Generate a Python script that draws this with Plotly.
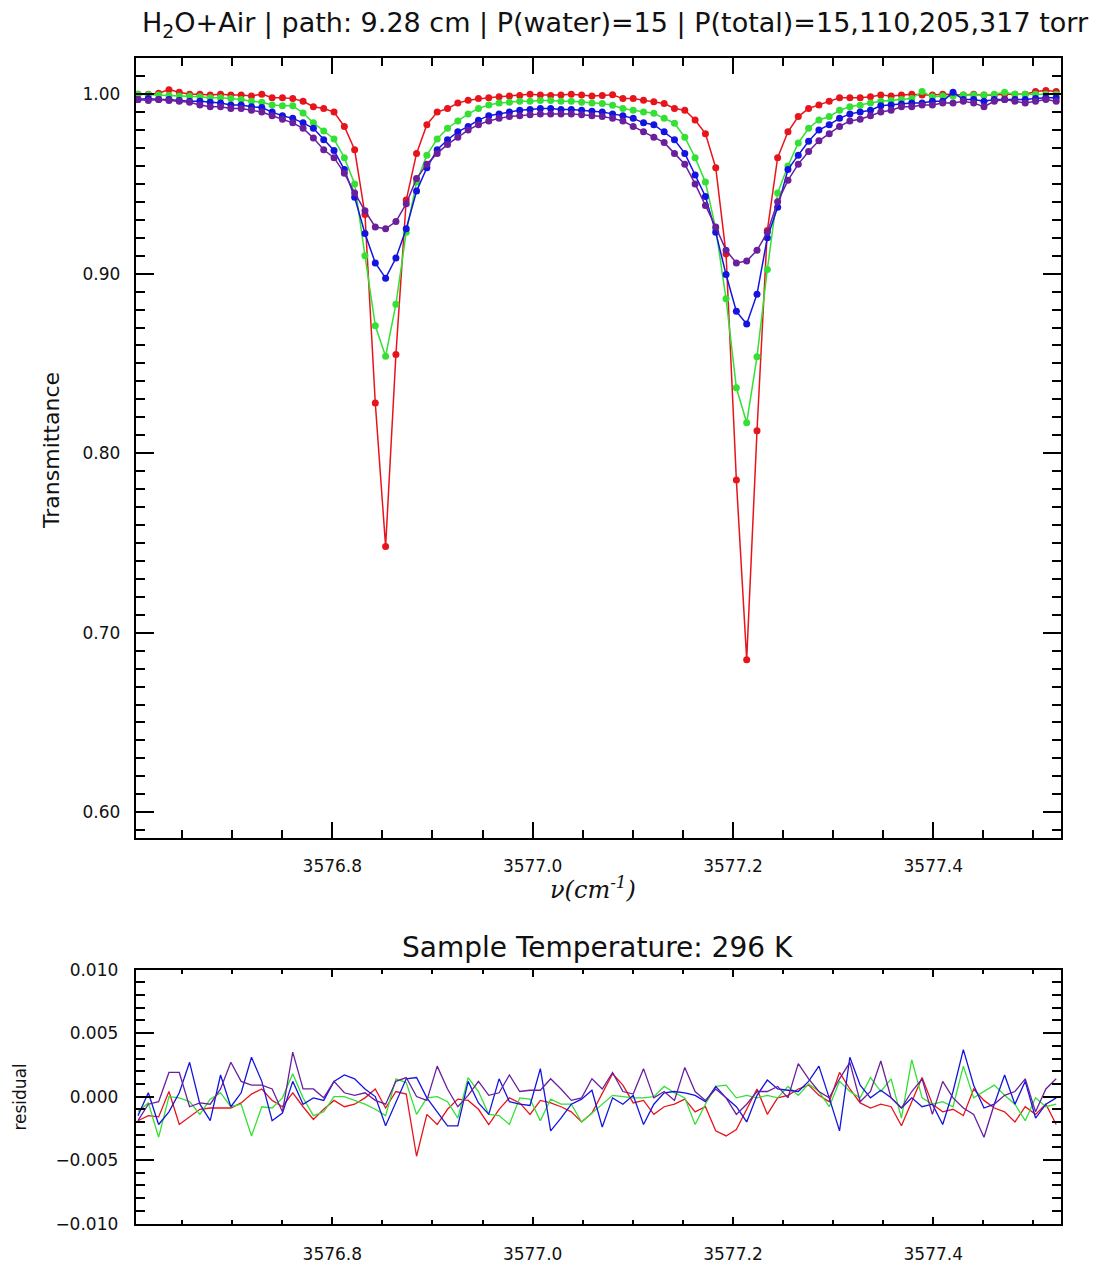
import plotly.graph_objects as go

# ---------------- data ----------------
wavenumber = [
    3576.6060, 3576.6163, 3576.6266, 3576.6369, 3576.6472, 3576.6575, 3576.6678, 3576.6781, 3576.6884, 3576.6987,
    3576.7090, 3576.7193, 3576.7296, 3576.7399, 3576.7502, 3576.7605, 3576.7708, 3576.7811, 3576.7914, 3576.8017,
    3576.8120, 3576.8223, 3576.8326, 3576.8429, 3576.8532, 3576.8635, 3576.8738, 3576.8841, 3576.8944, 3576.9047,
    3576.9150, 3576.9253, 3576.9356, 3576.9459, 3576.9562, 3576.9665, 3576.9768, 3576.9871, 3576.9974, 3577.0077,
    3577.0180, 3577.0283, 3577.0386, 3577.0489, 3577.0592, 3577.0695, 3577.0798, 3577.0901, 3577.1004, 3577.1107,
    3577.1210, 3577.1313, 3577.1416, 3577.1519, 3577.1622, 3577.1725, 3577.1828, 3577.1931, 3577.2034, 3577.2137,
    3577.2240, 3577.2343, 3577.2446, 3577.2549, 3577.2652, 3577.2755, 3577.2858, 3577.2961, 3577.3064, 3577.3167,
    3577.3270, 3577.3373, 3577.3476, 3577.3579, 3577.3682, 3577.3785, 3577.3888, 3577.3991, 3577.4094, 3577.4197,
    3577.4300, 3577.4403, 3577.4506, 3577.4609, 3577.4712, 3577.4815, 3577.4918, 3577.5021, 3577.5124, 3577.5227,
]

trans_p15 = [
    1.000, 1.000, 1.0005, 1.0025, 1.001, 1.000, 1.000, 0.9995, 1.000, 0.9995,
    0.9995, 0.999, 1.000, 0.998, 0.998, 0.9975, 0.996, 0.993, 0.992, 0.990,
    0.982, 0.969, 0.933, 0.828, 0.748, 0.855, 0.941, 0.967, 0.983, 0.990,
    0.992, 0.995, 0.9966, 0.9975, 0.998, 0.9985, 0.999, 0.9993, 1.000, 0.9995,
    0.9993, 0.9995, 1.000, 0.9995, 0.999, 0.9993, 0.9996, 0.9975, 0.9975, 0.9966,
    0.9957, 0.9948, 0.992, 0.991, 0.9856, 0.978, 0.959, 0.911, 0.785, 0.685,
    0.8125, 0.924, 0.9646, 0.979, 0.9875, 0.992, 0.994, 0.996, 0.998, 0.998,
    0.998, 0.9985, 0.9995, 0.999, 0.9995, 1.000, 0.9995, 0.9995, 1.000, 1.000,
    0.9995, 1.000, 0.9995, 0.9995, 1.000, 1.000, 1.000, 1.0015, 1.002, 1.0015,
]

trans_p110 = [
    1.000, 0.9998, 0.9995, 0.9993, 0.999, 0.9988, 0.9985, 0.998, 0.998, 0.9975,
    0.997, 0.996, 0.9955, 0.994, 0.9935, 0.9935, 0.9895, 0.984, 0.9795, 0.975,
    0.9646, 0.950, 0.910, 0.871, 0.854, 0.883, 0.923, 0.951, 0.966, 0.975,
    0.981, 0.985, 0.989, 0.992, 0.994, 0.995, 0.9955, 0.996, 0.996, 0.9965,
    0.9965, 0.996, 0.996, 0.9955, 0.995, 0.9948, 0.9938, 0.992, 0.991, 0.990,
    0.9893, 0.9865, 0.9838, 0.976, 0.9646, 0.951, 0.925, 0.886, 0.8364, 0.817,
    0.8537, 0.9023, 0.945, 0.960, 0.9728, 0.981, 0.9856, 0.9875, 0.991, 0.993,
    0.9938, 0.995, 0.996, 0.9965, 0.997, 0.9975, 1.0015, 0.9985, 0.999, 0.999,
    0.9995, 0.9995, 0.9995, 1.000, 1.001, 1.000, 1.000, 1.000, 1.000, 1.000,
]

trans_p205 = [
    0.997, 0.9975, 0.997, 0.997, 0.9965, 0.996, 0.996, 0.9955, 0.995, 0.994,
    0.994, 0.993, 0.9925, 0.990, 0.988, 0.9865, 0.984, 0.981, 0.9746, 0.9686,
    0.958, 0.9426, 0.9224, 0.906, 0.8975, 0.9087, 0.925, 0.946, 0.959, 0.969,
    0.9746, 0.979, 0.982, 0.9855, 0.988, 0.989, 0.990, 0.991, 0.9915, 0.992,
    0.992, 0.9915, 0.9915, 0.991, 0.9905, 0.990, 0.989, 0.988, 0.9865, 0.984,
    0.983, 0.979, 0.9746, 0.967, 0.955, 0.943, 0.923, 0.8995, 0.879, 0.872,
    0.8886, 0.920, 0.937, 0.958, 0.966, 0.9737, 0.980, 0.983, 0.9865, 0.989,
    0.990, 0.991, 0.9935, 0.994, 0.9945, 0.995, 0.995, 0.996, 0.996, 1.001,
    0.997, 0.997, 0.996, 0.997, 0.997, 0.997, 0.997, 0.9975, 0.998, 0.998,
]

trans_p317 = [
    0.997, 0.9965, 0.997, 0.9965, 0.996, 0.9955, 0.994, 0.993, 0.993, 0.992,
    0.992, 0.991, 0.990, 0.988, 0.986, 0.984, 0.981, 0.9755, 0.969, 0.9646,
    0.956, 0.945, 0.935, 0.926, 0.925, 0.929, 0.939, 0.953, 0.961, 0.967,
    0.972, 0.976, 0.980, 0.983, 0.985, 0.9865, 0.9875, 0.988, 0.9885, 0.989,
    0.989, 0.989, 0.989, 0.9885, 0.988, 0.9875, 0.9865, 0.985, 0.982, 0.979,
    0.976, 0.973, 0.967, 0.961, 0.950, 0.938, 0.926, 0.913, 0.906, 0.907,
    0.913, 0.923, 0.940, 0.952, 0.961, 0.968, 0.974, 0.978, 0.982, 0.985,
    0.986, 0.988, 0.990, 0.991, 0.993, 0.993, 0.994, 0.994, 0.995, 0.995,
    0.996, 0.995, 0.993, 0.996, 0.997, 0.996, 0.995, 0.996, 0.997, 0.996,
]

resid_p15 = [
    -0.0019, -0.0015, -0.0016, 0.0004, -0.0022, -0.0016, -0.0010, -0.0009, -0.0009, -0.0009,
    -0.0005, 0.0002, 0.0006, -0.0003, -0.0008, 0.0003, -0.0008, -0.0018, -0.0010, -0.0003,
    -0.0008, -0.0006, -0.0001, 0.0006, -0.0009, 0.0004, 0.0002, -0.0047, -0.0014, -0.0022,
    -0.0010, -0.0002, -0.0003, -0.0010, -0.0022, -0.0010, -0.0001, -0.0005, -0.0014, -0.0003,
    -0.0005, -0.0008, -0.0012, -0.0020, -0.0013, 0.0002, 0.0018, 0.0009, -0.0005, -0.0003,
    -0.0014, -0.0008, -0.0006, -0.0002, -0.0012, -0.0008, -0.0027, -0.0031, -0.0026, -0.0010,
    0.0006, -0.0014, -0.0001, 0.0001, 0.0006, 0.0009, 0.0001, -0.0004, 0.0019, 0.0006,
    -0.0005, -0.0009, -0.0006, -0.0008, -0.0023, -0.0004, 0.0015, -0.0006, -0.0012, -0.0010,
    -0.0015, 0.0006, -0.0003, -0.0009, -0.0012, -0.0020, -0.0008, -0.0014, -0.0006, -0.0022,
]

resid_p110 = [
    -0.0012, -0.0005, -0.0032, 0.0000, -0.0001, -0.0004, -0.0014, -0.0002, 0.0003, -0.0008,
    -0.0006, -0.0031, -0.0008, -0.0009, -0.0001, 0.0018, -0.0001, -0.0015, -0.0012, 0.0000,
    0.0000, -0.0003, -0.0006, -0.0010, -0.0015, 0.0014, 0.0011, -0.0014, -0.0001, 0.0000,
    -0.0004, -0.0017, 0.0015, 0.0004, -0.0014, -0.0015, -0.0022, -0.0001, -0.0002, -0.0019,
    -0.0002, -0.0006, -0.0006, -0.0020, -0.0013, -0.0006, 0.0001, 0.0000, -0.0001, -0.0001,
    0.0000, 0.0008, 0.0003, -0.0001, -0.0022, -0.0006, 0.0008, 0.0009, -0.0001, 0.0001,
    -0.0001, 0.0001, -0.0001, 0.0008, 0.0001, 0.0010, 0.0004, -0.0008, 0.0012, 0.0004,
    -0.0001, 0.0015, 0.0004, 0.0014, -0.0017, 0.0029, -0.0001, -0.0006, -0.0004, -0.0008,
    0.0024, -0.0001, 0.0004, 0.0009, 0.0001, -0.0006, -0.0019, -0.0001, -0.0008, -0.0006,
]

resid_p205 = [
    -0.0015, 0.0003, -0.0022, -0.0012, 0.0003, 0.0027, -0.0006, -0.0019, 0.0017, -0.0008,
    0.0003, 0.0031, 0.0012, -0.0019, -0.0013, 0.0012, -0.0006, -0.0001, -0.0003, 0.0012,
    0.0017, 0.0014, 0.0006, 0.0000, -0.0023, -0.0004, 0.0014, 0.0015, -0.0001, -0.0012,
    -0.0023, -0.0023, 0.0012, -0.0005, -0.0014, 0.0014, -0.0004, -0.0006, -0.0007, 0.0022,
    -0.0027, -0.0017, -0.0006, -0.0002, 0.0005, -0.0024, -0.0001, -0.0006, 0.0001, -0.0022,
    -0.0006, 0.0003, 0.0004, 0.0003, 0.0001, -0.0004, 0.0008, -0.0001, -0.0008, -0.0020,
    0.0001, 0.0013, 0.0006, 0.0005, 0.0004, 0.0012, 0.0024, -0.0001, -0.0027, 0.0031,
    0.0009, -0.0001, 0.0005, -0.0001, -0.0009, -0.0001, -0.0008, -0.0006, -0.0022, 0.0004,
    0.0037, 0.0009, -0.0009, -0.0006, 0.0017, -0.0006, 0.0012, -0.0017, -0.0006, -0.0001,
]

resid_p317 = [
    -0.0019, -0.0006, -0.0004, 0.0019, 0.0019, -0.0008, -0.0005, -0.0006, 0.0006, 0.0027,
    0.0012, 0.0009, 0.0009, 0.0006, -0.0012, 0.0035, 0.0006, 0.0006, -0.0001, 0.0012,
    0.0003, 0.0001, 0.0003, -0.0003, -0.0006, 0.0012, 0.0015, 0.0000, -0.0003, 0.0024,
    0.0006, -0.0008, 0.0001, 0.0012, 0.0001, 0.0003, 0.0017, 0.0004, 0.0005, 0.0005,
    0.0014, 0.0006, -0.0003, -0.0001, 0.0014, 0.0006, 0.0019, 0.0004, 0.0002, 0.0022,
    -0.0001, 0.0004, -0.0003, 0.0023, 0.0004, -0.0003, 0.0006, -0.0001, -0.0014, -0.0006,
    0.0004, 0.0004, 0.0008, -0.0001, 0.0026, 0.0014, 0.0004, -0.0001, 0.0014, 0.0027,
    -0.0004, 0.0004, 0.0028, -0.0001, -0.0009, 0.0004, 0.0014, -0.0014, 0.0012, -0.0001,
    -0.0009, -0.0014, -0.0032, -0.0006, 0.0001, 0.0004, 0.0014, -0.0012, 0.0006, 0.0014,
]

series_names = ["P=15 torr", "P=110 torr", "P=205 torr", "P=317 torr"]
series_colors = ["#e8141c", "#35e035", "#1414e0", "#6a1f9c"]
trans_series = [trans_p15, trans_p110, trans_p205, trans_p317]
resid_series = [resid_p15, resid_p110, resid_p205, resid_p317]

x_tick_vals = [3576.8, 3577.0, 3577.2, 3577.4]
x_tick_text = ["3576.8", "3577.0", "3577.2", "3577.4"]
top_y_tick_vals = [0.60, 0.70, 0.80, 0.90, 1.00]
top_y_tick_text = ["0.60", "0.70", "0.80", "0.90", "1.00"]
res_y_tick_vals = [-0.010, -0.005, 0.0, 0.005, 0.010]
res_y_tick_text = ["\u22120.010", "\u22120.005", "0.000", "0.005", "0.010"]

main_title = "H<sub>2</sub>O+Air | path: 9.28 cm | P(water)=15 | P(total)=15,110,205,317 torr"
resid_title = "Sample Temperature: 296 K"

# ---------------- figure ----------------
W, H = 1099, 1268
fig = go.Figure()

for name, col, tr in zip(series_names, series_colors, trans_series):
    fig.add_trace(go.Scatter(
        x=wavenumber, y=tr, mode="lines+markers", name=name,
        line=dict(color=col, width=1.5),
        marker=dict(color=col, size=7, symbol="circle"),
        xaxis="x", yaxis="y", showlegend=False))

for name, col, rs in zip(series_names, series_colors, resid_series):
    fig.add_trace(go.Scatter(
        x=wavenumber, y=rs, mode="lines", name=name + " residual",
        line=dict(color=col, width=1.3),
        xaxis="x2", yaxis="y2", showlegend=False))

xl, xr = 135.7, 1061.0
top_t, top_b = 49.0, 841.0
bot_t, bot_b = 975.0, 1233.0

tick_font = dict(family="DejaVu Sans", size=17, color="#111")

common_x = dict(
    range=[3576.6037, 3577.5275], domain=[xl / W, xr / W],
    showgrid=False, zeroline=False, showline=True, linecolor="black", linewidth=2,
    mirror="allticks", ticks="inside", tickcolor="black", tickwidth=1.5,
    tickvals=x_tick_vals, ticktext=x_tick_text, tickfont=tick_font,
)

fig.update_layout(
    width=W, height=H, autosize=False,
    margin=dict(l=0, r=0, t=0, b=0),
    paper_bgcolor="white", plot_bgcolor="white",
    xaxis=dict(common_x, anchor="y", ticklen=16, ticklabelstandoff=12,
               minor=dict(dtick=0.05, tick0=3576.6, ticklen=8, ticks="inside",
                          tickcolor="black", tickwidth=1.5)),
    yaxis=dict(range=[0.5858, 1.02], domain=[1 - top_b / H, 1 - top_t / H],
               showgrid=False, zeroline=False, showline=True, linecolor="black",
               linewidth=2, mirror="allticks", ticks="inside", tickcolor="black",
               tickwidth=1.5, ticklen=18, tickvals=top_y_tick_vals,
               ticktext=top_y_tick_text, tickfont=tick_font, ticklabelstandoff=10,
               minor=dict(dtick=0.01, tick0=0.6, ticklen=9, ticks="inside",
                          tickcolor="black", tickwidth=1.5),
               anchor="x"),
    xaxis2=dict(common_x, anchor="y2", ticklen=7, ticklabelstandoff=14,
                minor=dict(dtick=0.05, tick0=3576.6, ticklen=4, ticks="inside",
                           tickcolor="black", tickwidth=1.5)),
    yaxis2=dict(range=[-0.010, 0.010], domain=[1 - bot_b / H, 1 - bot_t / H],
                showgrid=False, zeroline=False, showline=True, linecolor="black",
                linewidth=2, mirror="allticks", ticks="inside", tickcolor="black",
                tickwidth=1.5, ticklen=18, tickvals=res_y_tick_vals,
                ticktext=res_y_tick_text, tickfont=tick_font, ticklabelstandoff=12,
                minor=dict(dtick=0.001, tick0=0.0, ticklen=9, ticks="inside",
                           tickcolor="black", tickwidth=1.5),
                anchor="x2"),
)

def px(x):
    return x / W

def py(y):
    return 1 - y / H

annots = [
    dict(text=main_title, x=px(615), y=py(15), font=dict(family="DejaVu Sans", size=27, color="#111")),
    dict(text=resid_title, x=px(597), y=py(953), font=dict(family="DejaVu Sans", size=28, color="#111")),
    dict(text="<i>ν(cm<sup>-1</sup>)</i>", x=px(593), y=py(892),
         font=dict(family="DejaVu Serif", size=24, color="#111")),
    dict(text="Transmittance", x=px(52), y=py(448), textangle=-90,
         font=dict(family="DejaVu Sans", size=22, color="#111")),
    dict(text="residual", x=px(20), y=py(1105), textangle=-90,
         font=dict(family="DejaVu Sans", size=17, color="#111")),
]
for a in annots:
    fig.add_annotation(xref="paper", yref="paper", xanchor="center", yanchor="middle",
                       showarrow=False, **a)

fig.write_html("out.html")
